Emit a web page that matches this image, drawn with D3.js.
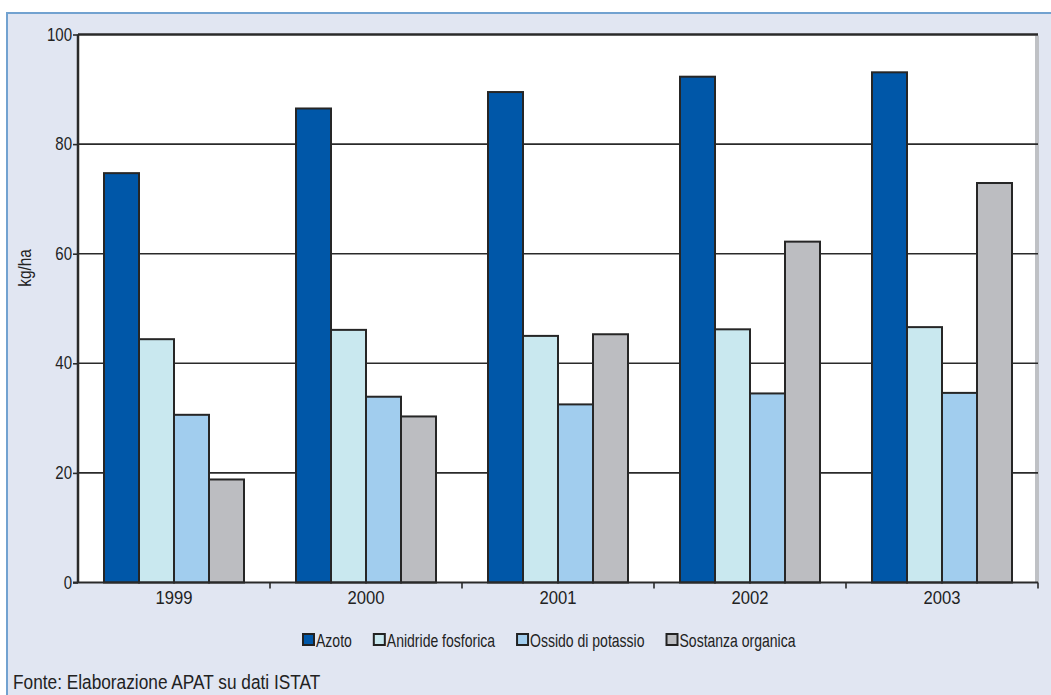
<!DOCTYPE html>
<html>
<head>
<meta charset="utf-8">
<script src="https://cdn.jsdelivr.net/npm/d3@7"></script>
<style>
  html, body { margin: 0; padding: 0; background: #ffffff; }
  svg { display: block; font-family: "Liberation Sans", Arial, Helvetica, sans-serif; }
</style>
</head>
<body>
<svg id="chart" width="1051" height="695"></svg>
<script>
// Fertilizer use per hectare, 1999-2003
const years = ["1999", "2000", "2001", "2002", "2003"];
const seriesNames = ["Azoto", "Anidride fosforica", "Ossido di potassio", "Sostanza organica"];
const azoto      = [74.7, 86.5, 89.5, 92.3, 93.1];
const anidride   = [44.4, 46.1, 45.0, 46.2, 46.6];
const ossido     = [30.6, 33.9, 32.5, 34.5, 34.6];
const sostanza   = [18.8, 30.3, 45.3, 62.2, 72.9];
const yTicks = [0, 20, 40, 60, 80, 100];
const colors = ["#0057a8", "#c9e8ef", "#a1cdee", "#bcbdc1"];

const seriesValues = [azoto, anidride, ossido, sostanza];

const svg = d3.select("#chart");
const W = 1051, H = 695;
const plot = { left: 78, right: 1038, top: 34.5, bottom: 582.5 };

// condensed text: place at (x, y) and squeeze horizontally
function condensedText(parent, x, y, s, str, size, anchor) {
  return parent.append("text")
    .attr("transform", `translate(${x},${y}) scale(${s},1)`)
    .attr("text-anchor", anchor || "start")
    .attr("font-size", size).attr("fill", "#222").text(str);
}

// panel background and frame
svg.append("rect").attr("x", 7).attr("y", 13).attr("width", W).attr("height", H)
  .attr("fill", "#e1e6f2");
svg.append("line").attr("x1", 7).attr("x2", W).attr("y1", 13).attr("y2", 13)
  .attr("stroke", "#72a2d0").attr("stroke-width", 2);
svg.append("line").attr("x1", 7).attr("x2", 7).attr("y1", 12).attr("y2", H)
  .attr("stroke", "#72a2d0").attr("stroke-width", 2);

const x0 = d3.scaleBand().domain(years).range([plot.left, plot.right]).paddingInner(0).paddingOuter(0);
const groupPad = 26;
const x1 = d3.scaleBand().domain(seriesNames)
  .range([groupPad, x0.bandwidth() - groupPad]).padding(0);
const y = d3.scaleLinear().domain([0, 100]).range([plot.bottom, plot.top]);

// plot area
svg.append("rect").attr("x", plot.left).attr("y", plot.top)
  .attr("width", plot.right - plot.left).attr("height", plot.bottom - plot.top)
  .attr("fill", "#ffffff");
// right-hand shadow edge
svg.append("rect").attr("x", plot.right - 3).attr("y", plot.top + 1)
  .attr("width", 4).attr("height", plot.bottom - plot.top - 1)
  .attr("fill", "#bfc1c5");

// gridlines
svg.append("g").selectAll("line").data(yTicks.filter(d => d > 0)).join("line")
  .attr("x1", plot.left).attr("x2", plot.right)
  .attr("y1", d => y(d)).attr("y2", d => y(d))
  .attr("stroke", "#2a2a2a").attr("stroke-width", d => d === 100 ? 2.5 : 1.6);

// bars
const groups = svg.append("g").selectAll("g").data(years).join("g")
  .attr("transform", d => `translate(${x0(d)},0)`);
groups.selectAll("rect")
  .data((yr, i) => seriesNames.map((s, k) => ({ s, k, v: seriesValues[k][i] })))
  .join("rect")
  .attr("x", d => x1(d.s))
  .attr("y", d => y(d.v))
  .attr("width", x1.bandwidth())
  .attr("height", d => y(0) - y(d.v))
  .attr("fill", d => colors[d.k])
  .attr("stroke", "#262626")
  .attr("stroke-width", 2);

// y axis
const ySq = 0.86;
const yAxis = d3.axisLeft(y).tickValues(yTicks).tickSize(5).tickPadding(1);
const gy = svg.append("g").attr("transform", `translate(${plot.left},0)`).call(yAxis);
gy.select(".domain").attr("stroke", "#2a2a2a").attr("stroke-width", 2.5)
  .attr("d", `M0,${plot.top}V${plot.bottom}`);
gy.selectAll(".tick line").attr("stroke", "#2a2a2a").attr("stroke-width", 1.6);
gy.selectAll(".tick text").attr("fill", "#222").attr("font-size", 17.5)
  .attr("font-family", null)
  .attr("x", -6 / ySq)
  .attr("transform", `scale(${ySq},1)`);

// x axis
const xSq = 0.9;
const xAxis = d3.axisBottom(x0).tickSize(0).tickPadding(8);
const gx = svg.append("g").attr("transform", `translate(0,${plot.bottom})`).call(xAxis);
gx.select(".domain").remove();
gx.selectAll(".tick text").attr("fill", "#222").attr("font-size", 18.5)
  .attr("font-family", null)
  .attr("transform", `scale(${xSq},1)`);
svg.append("line").attr("x1", plot.left - 5).attr("x2", plot.right)
  .attr("y1", plot.bottom).attr("y2", plot.bottom)
  .attr("stroke", "#2a2a2a").attr("stroke-width", 2);
// category boundary ticks
const bounds = years.map(d => x0(d)).concat([plot.right]).slice(1);
svg.append("g").selectAll("line").data(bounds).join("line")
  .attr("x1", d => d).attr("x2", d => d)
  .attr("y1", plot.bottom).attr("y2", plot.bottom + 6)
  .attr("stroke", "#2a2a2a").attr("stroke-width", 1.6);

// y axis title
svg.append("text").attr("transform", "translate(31,268) rotate(-90) scale(0.88,1)")
  .attr("text-anchor", "middle").attr("font-size", 17.5).attr("fill", "#222")
  .text("kg/ha");

// legend
const legend = svg.append("g");
const lSq = 0.77;
let lx = 303;
seriesNames.forEach((name, k) => {
  legend.append("rect").attr("x", lx).attr("y", 634)
    .attr("width", 11).attr("height", 11)
    .attr("fill", colors[k]).attr("stroke", "#222").attr("stroke-width", 2);
  const t = condensedText(legend, lx + 13, 646.5, lSq, name, 18.2);
  lx += 13 + t.node().getComputedTextLength() * lSq + 22;
});

// source note
condensedText(svg, 13, 688.5, 0.83, "Fonte: Elaborazione APAT su dati ISTAT", 20.8);
</script>
</body>
</html>
